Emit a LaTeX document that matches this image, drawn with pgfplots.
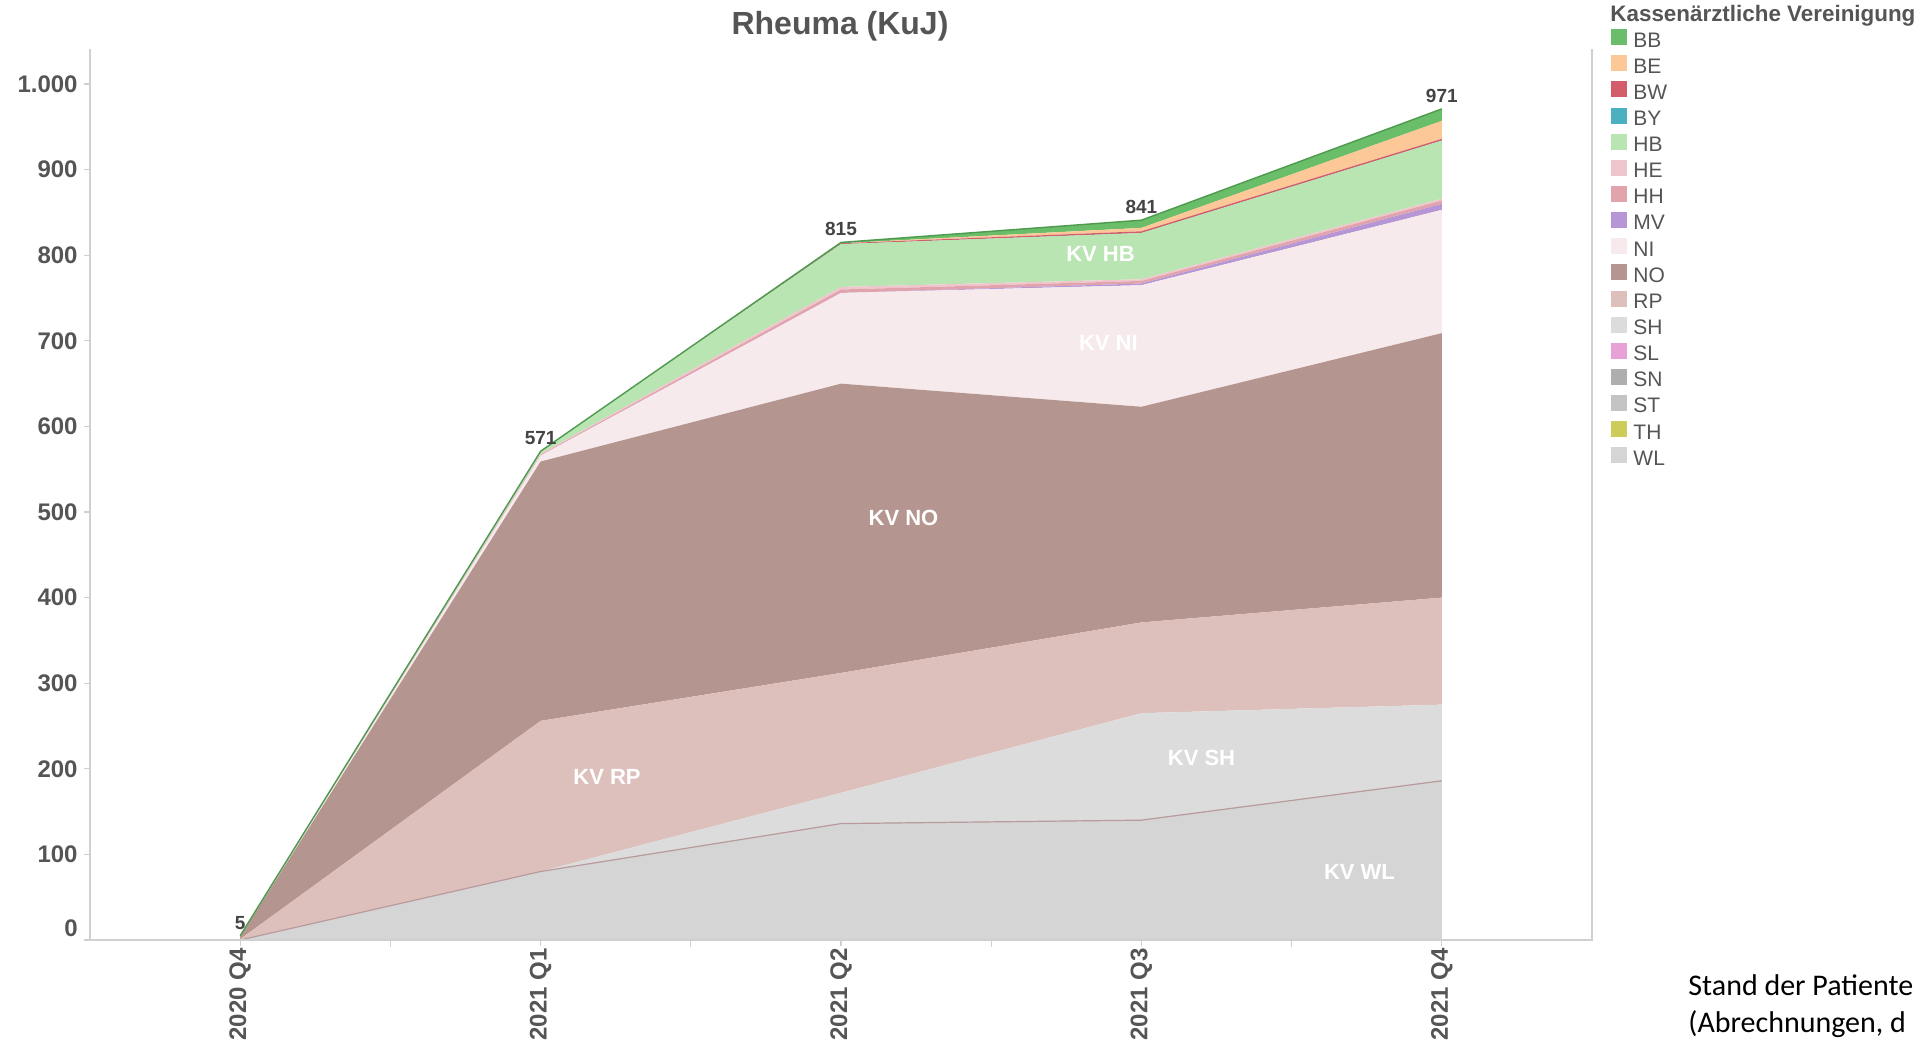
\documentclass[border=0pt]{standalone}
\usepackage{fontspec}
\setmainfont{Liberation Sans}
\newfontfamily\carlito{Carlito}
\usepackage{pgfplots}
\pgfplotsset{compat=1.18}
\definecolor{labgray}{HTML}{555555}
\definecolor{totgray}{HTML}{444444}
\definecolor{axgray}{HTML}{D0D0D0}
\definecolor{cBB}{HTML}{6ABD69}
\definecolor{cBE}{HTML}{FCC897}
\definecolor{cBW}{HTML}{D35D6A}
\definecolor{cBY}{HTML}{4BB0C0}
\definecolor{cHB}{HTML}{B9E5B2}
\definecolor{cHE}{HTML}{EFC6CC}
\definecolor{cHH}{HTML}{E2A4AC}
\definecolor{cMV}{HTML}{B796D6}
\definecolor{cNI}{HTML}{F7EAEC}
\definecolor{cNO}{HTML}{B5958F}
\definecolor{cRP}{HTML}{DDC0BB}
\definecolor{cSH}{HTML}{DCDCDC}
\definecolor{cSL}{HTML}{E8A1D6}
\definecolor{cSN}{HTML}{AEAEAE}
\definecolor{cST}{HTML}{C4C4C4}
\definecolor{cTH}{HTML}{CDCB5A}
\definecolor{cWL}{HTML}{D5D5D5}
\definecolor{bbedge}{HTML}{4E9A4E}
\definecolor{wledge}{HTML}{B99A9D}
\pgfplotsset{
  sqlegend/.style={legend image code/.code={\path[##1] (0pt,-1pt) rectangle (8pt,7pt);}},
  samebox/.style={at={(45pt,51.5pt)}, anchor=south west,
    scale only axis, width=751pt, height=445.5pt,
    xmin=-0.5, xmax=4.5, ymin=0, ymax=1041},
}
\begin{document}
\begin{tikzpicture}
\useasboundingbox (0,0) rectangle (960.5pt,521.5pt);
\begin{axis}[
  samebox, name=main,
  stack plots=y,
  axis line style={draw=none},
  xtick pos=bottom, ytick pos=left,
  xtick={0,1,2,3,4},
  xticklabels={2020 Q4, 2021 Q1, 2021 Q2, 2021 Q3, 2021 Q4},
  minor xtick={0.5,1.5,2.5,3.5},
  tick align=outside,
  major tick length=3pt,
  minor tick length=3.5pt,
  tick style={color=axgray, line width=0.6pt},
  ytick={0,100,...,1000},
  yticklabels={\smash{\raisebox{1.7pt}{0}},100,200,300,400,500,600,700,800,900,1.000},
  yticklabel style={font=\fontsize{12}{14}\selectfont\bfseries, text=labgray, inner sep=0pt, xshift=-3pt},
  xticklabel style={rotate=90, anchor=east, font=\fontsize{12}{14}\selectfont\bfseries, text=labgray, inner sep=0pt},
  xticklabel shift=1pt,
  reverse legend,
  legend cell align=left,
  sqlegend,
  legend style={at={(1.0124,1.0222)}, anchor=north west, draw=none, fill=none,
    inner sep=0pt, outer sep=0pt, row sep=0pt,
    font=\fontsize{10.5}{12}\selectfont, text=labgray,
    nodes={inner sep=0pt, text height=8.0pt, text depth=4.13pt},
    /tikz/every odd column/.append style={column sep=3.4pt}},
]
\addplot[fill=cWL, draw=none] coordinates {(0,0) (1,80) (2,136) (3,140) (4,186)} \closedcycle;
\addlegendentry{WL}
\addplot[fill=cTH, draw=none] coordinates {(0,0) (1,0) (2,0) (3,0) (4,0)} \closedcycle;
\addlegendentry{TH}
\addplot[fill=cST, draw=none] coordinates {(0,0) (1,0) (2,0) (3,0) (4,0)} \closedcycle;
\addlegendentry{ST}
\addplot[fill=cSN, draw=none] coordinates {(0,0) (1,0) (2,0) (3,0) (4,0)} \closedcycle;
\addlegendentry{SN}
\addplot[fill=cSL, draw=none] coordinates {(0,0) (1,0) (2,0) (3,0) (4,0)} \closedcycle;
\addlegendentry{SL}
\addplot[fill=cSH, draw=none] coordinates {(0,0) (1,0) (2,36) (3,125) (4,89)} \closedcycle;
\addlegendentry{SH}
\addplot[fill=cRP, draw=none] coordinates {(0,1) (1,176) (2,140) (3,106) (4,125)} \closedcycle;
\addlegendentry{RP}
\addplot[fill=cNO, draw=none] coordinates {(0,3) (1,303) (2,338) (3,252) (4,309)} \closedcycle;
\addlegendentry{NO}
\addplot[fill=cNI, draw=none] coordinates {(0,0) (1,7) (2,106) (3,142) (4,144)} \closedcycle;
\addlegendentry{NI}
\addplot[fill=cMV, draw=none] coordinates {(0,0) (1,0) (2,0) (3,2) (4,7)} \closedcycle;
\addlegendentry{MV}
\addplot[fill=cHH, draw=none] coordinates {(0,0) (1,1) (2,4) (3,3) (4,4)} \closedcycle;
\addlegendentry{HH}
\addplot[fill=cHE, draw=none] coordinates {(0,0) (1,1) (2,3) (3,2) (4,2)} \closedcycle;
\addlegendentry{HE}
\addplot[fill=cHB, draw=none] coordinates {(0,1) (1,3) (2,50) (3,54) (4,68)} \closedcycle;
\addlegendentry{HB}
\addplot[fill=cBY, draw=none] coordinates {(0,0) (1,0) (2,0) (3,0) (4,0)} \closedcycle;
\addlegendentry{BY}
\addplot[fill=cBW, draw=none] coordinates {(0,0) (1,0) (2,1) (3,2) (4,2)} \closedcycle;
\addlegendentry{BW}
\addplot[fill=cBE, draw=none] coordinates {(0,0) (1,0) (2,0) (3,4) (4,21)} \closedcycle;
\addlegendentry{BE}
\addplot[fill=cBB, draw=none] coordinates {(0,0) (1,0) (2,1) (3,9) (4,14)} \closedcycle;
\addlegendentry{BB}
\end{axis}
\begin{axis}[samebox, hide axis]
\addplot[draw=wledge, line width=0.6pt] coordinates {(0,0) (1,80) (2,136) (3,140) (4,186)};
\addplot[draw=bbedge, line width=0.7pt] coordinates {(0,5) (1,571) (2,815) (3,841) (4,971)};
\begin{scope}[every node/.style={font=\fontsize{9.5}{11}\selectfont\bfseries, text=totgray, anchor=south, inner sep=0pt, yshift=3pt}]
\node at (axis cs:0,5) {5};
\node at (axis cs:1,571) {571};
\node at (axis cs:2,815) {815};
\node at (axis cs:3,841) {841};
\node at (axis cs:4,971) {971};
\end{scope}
\begin{scope}[every node/.style={font=\fontsize{11}{13}\selectfont\bfseries, text=white}]
\node at (axis cs:1.221,190) {KV RP};
\node at (axis cs:2.208,493) {KV NO};
\node at (axis cs:2.89,698) {KV NI};
\node at (axis cs:2.864,802) {KV HB};
\node at (axis cs:3.2,213) {KV SH};
\node at (axis cs:3.726,80) {KV WL};
\end{scope}
\end{axis}
\draw[axgray, line width=0.6pt] (main.north west) -- (main.south west) -- (main.south east) -- (main.north east);
\node[anchor=base, font=\fontsize{16}{19}\selectfont\bfseries, text=labgray, inner sep=0pt] at (420pt,504.3pt) {Rheuma (KuJ)};
\node[anchor=base west, font=\fontsize{11.2}{13}\selectfont\bfseries, text=labgray, inner sep=0pt] at (805pt,510.5pt) {Kassenärztliche Vereinigung};
\node[anchor=base west, font=\carlito\fontsize{15}{18.5}\selectfont, inner sep=0pt] at (844pt,23.7pt) {Stand der Patiente};
\node[anchor=base west, font=\carlito\fontsize{15}{18.5}\selectfont, inner sep=0pt] at (844pt,5.2pt) {(Abrechnungen, d};
\end{tikzpicture}
\end{document}
